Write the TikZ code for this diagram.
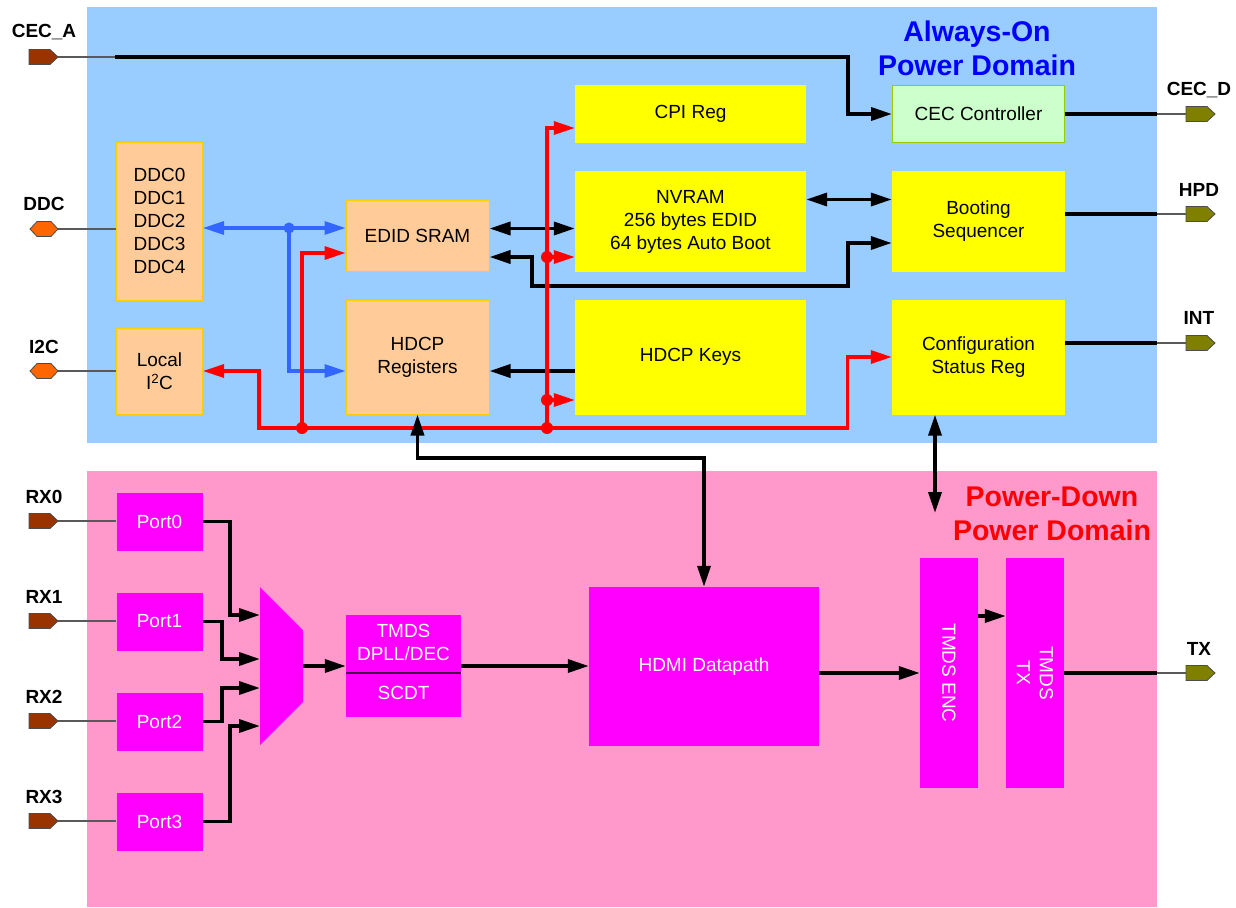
\documentclass[tikz,border=0pt]{standalone}
\usepackage{fontspec}
\setmainfont{Liberation Sans}
\usetikzlibrary{arrows.meta}
\definecolor{aonblue}{HTML}{99CCFF}
\definecolor{pdpink}{HTML}{FF99CC}
\definecolor{peach}{HTML}{FFCC99}
\definecolor{peachedge}{HTML}{FFCC00}
\definecolor{cecgreen}{HTML}{CCFFCC}
\definecolor{cecedge}{HTML}{99CC00}
\definecolor{boxyellow}{HTML}{FFFF00}
\definecolor{boxmag}{HTML}{FF00FF}
\definecolor{busred}{HTML}{FF0000}
\definecolor{busblue}{HTML}{3366FF}
\definecolor{pinbrown}{HTML}{993300}
\definecolor{pinorange}{HTML}{FF6600}
\definecolor{pinolive}{HTML}{808000}
\definecolor{titleblue}{HTML}{0000FF}
\tikzset{
  blk/.style={rectangle, inner sep=0pt, align=center, font=\fontsize{19}{23}\selectfont},
  peachblk/.style={blk, fill=peach, draw=peachedge, line width=1pt},
  yelblk/.style={blk, fill=boxyellow},
  magblk/.style={blk, fill=boxmag, text=white},
  wire/.style={line width=3.6pt, black},
  redwire/.style={line width=3.2pt, busred},
  bluewire/.style={line width=3.2pt, busblue},
  pinwire/.style={line width=1.2pt, black!65},
  pinlbl/.style={font=\bfseries\fontsize{19}{23}\selectfont},
  domtitle/.style={align=center, font=\bfseries\fontsize{28.5}{34}\selectfont},
  pics/inpin/.style={code={
    \filldraw[fill=#1, draw=black!70, line width=0.8pt]
      (-29,-7.5) -- (-8,-7.5) -- (0,0) -- (-8,7.5) -- (-29,7.5) -- cycle;}},
  pics/hexpin/.style={code={
    \filldraw[fill=#1, draw=black!70, line width=0.8pt]
      (-28,0) -- (-21,-7.5) -- (-7,-7.5) -- (0,0) -- (-7,7.5) -- (-21,7.5) -- cycle;}},
  pics/outpin/.style={code={
    \filldraw[fill=#1, draw=black!70, line width=0.8pt]
      (0,-7.5) -- (21,-7.5) -- (29,0) -- (21,7.5) -- (0,7.5) -- cycle;}},
}
\begin{document}
\begin{tikzpicture}[x=1pt, y=-1pt, >={Triangle[length=21pt,width=13pt]}]
  \useasboundingbox (0,0) rectangle (1236,907);
  \fill[aonblue] (87,7) rectangle (1157,443);
  \fill[pdpink] (87,471) rectangle (1157,907);

  \node[domtitle, text=titleblue] (aontitle) at (977,48) {Always-On\\Power Domain};
  \node[domtitle, text=busred] (pdtitle) at (1052,514) {Power-Down\\Power Domain};

  \node[peachblk, minimum width=86pt, minimum height=158pt] (ddc) at (159.5,221) {DDC0\\DDC1\\DDC2\\DDC3\\DDC4};
  \node[peachblk, minimum width=86pt, minimum height=86pt] (lic) at (159.5,371) {Local\\I\textsuperscript{2}C};
  \node[peachblk, minimum width=143pt, minimum height=71pt] (edid) at (417.5,235.5) {EDID SRAM};
  \node[peachblk, minimum width=143pt, minimum height=114pt] (hreg) at (417.5,357) {HDCP\\Registers};
  \node[yelblk, minimum width=231pt, minimum height=58pt] (cpi) at (690.5,114) {CPI Reg};
  \node[yelblk, minimum width=231pt, minimum height=101pt] (nvram) at (690.5,221.5) {NVRAM\\256 bytes EDID\\64 bytes Auto Boot};
  \node[yelblk, minimum width=231pt, minimum height=115pt] (hkeys) at (690.5,357) {HDCP Keys};
  \node[blk, fill=cecgreen, draw=cecedge, line width=1pt, minimum width=172pt, minimum height=57pt] (cec) at (978.5,114) {CEC Controller};
  \node[yelblk, minimum width=173pt, minimum height=101pt] (boot) at (978.5,221.5) {Booting\\Sequencer};
  \node[yelblk, minimum width=173pt, minimum height=115pt] (csr) at (978.5,357) {Configuration\\Status Reg};

  \node[magblk, minimum width=86pt, minimum height=58pt] (port0) at (159.5,521.5) {Port0};
  \node[magblk, minimum width=86pt, minimum height=58pt] (port1) at (159.5,621.5) {Port1};
  \node[magblk, minimum width=86pt, minimum height=58pt] (port2) at (159.5,721.5) {Port2};
  \node[magblk, minimum width=86pt, minimum height=58pt] (port3) at (159.5,821.5) {Port3};
  \fill[boxmag] (260,587) -- (303,630) -- (303,702) -- (260,745) -- cycle;
  \coordinate (mi0) at (260,615);
  \coordinate (mi1) at (260,659);
  \coordinate (mi2) at (260,688);
  \coordinate (mi3) at (260,726);
  \coordinate (mo) at (303,666);
  \node[magblk, minimum width=115pt, minimum height=102pt] (tmds) at (403.5,666) {};
  \draw[line width=1.2pt, black!70!boxmag] ([yshift=-7pt]tmds.west) -- ([yshift=-7pt]tmds.east);
  \node[blk, text=white] (tmdsup) at (403.5,642.5) {TMDS\\DPLL/DEC};
  \node[blk, text=white] (tmdslo) at (403.5,693) {SCDT};
  \node[magblk, minimum width=230pt, minimum height=159pt] (hdmi) at (704,666.5) {HDMI Datapath};
  \node[magblk, minimum width=58pt, minimum height=230pt] (tenc) at (949,673) {};
  \node[magblk, minimum width=58pt, minimum height=230pt] (ttx) at (1035,673) {};
  \node[blk, text=white, rotate=-90] (tenclbl) at (tenc) {TMDS ENC};
  \node[blk, text=white, rotate=-90] (ttxlbl) at (ttx) {TMDS\\TX};

  \coordinate (cecA) at (58,57);
  \coordinate (ddcP) at (58,229);
  \coordinate (i2cP) at (58,371);
  \coordinate (rx0) at (58,521);
  \coordinate (rx1) at (58,621);
  \coordinate (rx2) at (58,721);
  \coordinate (rx3) at (58,821);
  \coordinate (cecD) at (1186,114);
  \coordinate (hpd) at (1186,214);
  \coordinate (int) at (1186,343);
  \coordinate (tx) at (1186,673);
  \pic at (cecA) {inpin=pinbrown};
  \pic at (ddcP) {hexpin=pinorange};
  \pic at (i2cP) {hexpin=pinorange};
  \pic at (rx0) {inpin=pinbrown};
  \pic at (rx1) {inpin=pinbrown};
  \pic at (rx2) {inpin=pinbrown};
  \pic at (rx3) {inpin=pinbrown};
  \pic at (cecD) {outpin=pinolive};
  \pic at (hpd) {outpin=pinolive};
  \pic at (int) {outpin=pinolive};
  \pic at (tx) {outpin=pinolive};
  \node[pinlbl] (cecAlbl) at (44,32) {CEC\_A};
  \node[pinlbl] (ddclbl) at (44,204) {DDC};
  \node[pinlbl] (i2clbl) at (44,347) {I2C};
  \node[pinlbl] (rx0lbl) at (44,497) {RX0};
  \node[pinlbl] (rx1lbl) at (44,597) {RX1};
  \node[pinlbl] (rx2lbl) at (44,697) {RX2};
  \node[pinlbl] (rx3lbl) at (44,797) {RX3};
  \node[pinlbl] (cecDlbl) at (1199,90) {CEC\_D};
  \node[pinlbl] (hpdlbl) at (1199,190) {HPD};
  \node[pinlbl] (intlbl) at (1199,318) {INT};
  \node[pinlbl] (txlbl) at (1199,649) {TX};

  \coordinate (cecAin) at (115,57);
  \coordinate (cecDin) at (1157,114);
  \coordinate (hpdin) at (1157,214);
  \coordinate (intin) at (1157,343);
  \coordinate (txin) at (1157,673);
  \draw[pinwire] (cecA) -- (cecAin);
  \draw[pinwire] (ddcP) -- (ddcP -| ddc.west);
  \draw[pinwire] (i2cP) -- (i2cP -| lic.west);
  \draw[pinwire] (rx0) -- (rx0 -| port0.west);
  \draw[pinwire] (rx1) -- (rx1 -| port1.west);
  \draw[pinwire] (rx2) -- (rx2 -| port2.west);
  \draw[pinwire] (rx3) -- (rx3 -| port3.west);
  \draw[pinwire] (cecDin) -- (cecD);
  \draw[pinwire] (hpdin) -- (hpd);
  \draw[pinwire] (intin) -- (int);
  \draw[pinwire] (txin) -- (tx);

  \draw[wire, ->] (cecAin) -| ([xshift=-44pt]cec.west) -- (cec.west);
  \draw[wire] (cec.east) -- (cecDin);
  \draw[wire] (hpdin -| boot.east) -- (hpdin);
  \draw[wire] (intin -| csr.east) -- (intin);
  \draw[wire] (ttx.east) -- (txin);
  \draw[wire, <->] ([yshift=7pt]edid.east) -- ([yshift=7pt]edid.east -| nvram.west);
  \draw[wire, <->] ([yshift=22pt]nvram.east) -- ([yshift=22pt]nvram.east -| boot.west);
  \draw[wire, <->] ([yshift=-21.5pt]edid.east) -| (532,286) -| ([xshift=-44pt,yshift=-21.5pt]boot.west) -- ([yshift=-21.5pt]boot.west);
  \draw[wire, ->] ([yshift=-14pt]hkeys.west) -- ([yshift=-14pt]hreg.east);
  \coordinate (csrdn) at (935,513);
  \draw[wire, <->] (csrdn |- csr.south) -- (csrdn);

  \coordinate (bj) at (289,228);
  \draw[bluewire, <->] (bj -| ddc.east) -- (bj -| edid.west);
  \draw[bluewire, ->] (bj) |- ([yshift=-14pt]hreg.west);
  \fill[busblue] (bj) circle[radius=5.5pt];

  \coordinate (rj1) at (302,428);
  \coordinate (rj2) at (547,428);
  \coordinate (rj3) at (547,257);
  \coordinate (rj4) at (547,400);
  \draw[redwire, <->] (lic.east) -| (259,428) -| ([xshift=-44pt]csr.west) -- (csr.west);
  \draw[redwire, ->] (rj1) |- ([yshift=-17.5pt]edid.west);
  \draw[redwire, ->] (rj2) |- ([yshift=-14pt]cpi.west);
  \draw[redwire, ->] (rj3) -- (rj3 -| nvram.west);
  \draw[redwire, ->] (rj4) -- (rj4 -| hkeys.west);
  \foreach \j in {rj1,rj2,rj3,rj4}
    \fill[busred] (\j) circle[radius=6pt];

  \draw[wire, <->] (hreg.south) |- ([yshift=129pt]hdmi.north) -- (hdmi.north);

  \draw[wire, ->] (port0.east) -| ([xshift=-30pt]mi0) -- (mi0);
  \draw[wire, ->] (port1.east) -| ([xshift=-38pt]mi1) -- (mi1);
  \draw[wire, ->] (port2.east) -| ([xshift=-38pt]mi2) -- (mi2);
  \draw[wire, ->] (port3.east) -| ([xshift=-30pt]mi3) -- (mi3);
  \draw[wire, ->] (mo) -- (mo -| tmds.west);
  \draw[wire, ->] (tmds.east) -- (tmds.east -| hdmi.west);
  \draw[wire, ->] (hdmi.east |- tenc.west) -- (tenc.west);
  \draw[wire, ->] ([yshift=57pt]tenc.east) -- ([yshift=57pt]tenc.east -| ttx.west);
\end{tikzpicture}
\end{document}
